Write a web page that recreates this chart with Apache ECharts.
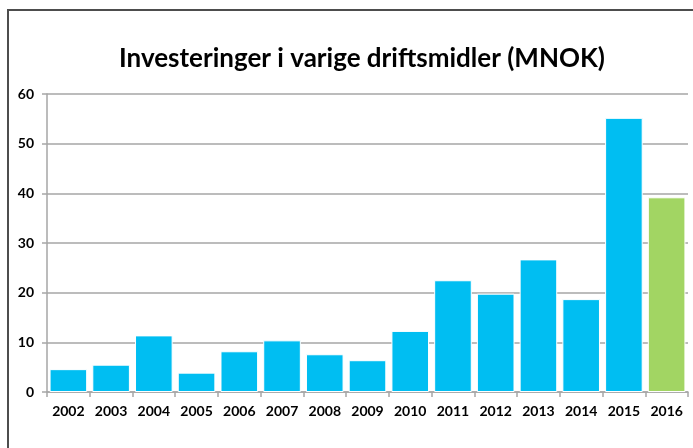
<!DOCTYPE html>
<html>
<head>
<meta charset="utf-8">
<script src="https://cdn.jsdelivr.net/npm/echarts@6/dist/echarts.min.js"></script>
<style>
  html, body { margin: 0; padding: 0; background: #fff; }
  #chart { width: 693px; height: 448px; }
</style>
</head>
<body>
<div id="chart"></div>
<script>
const years = ['2002', '2003', '2004', '2005', '2006', '2007', '2008', '2009', '2010', '2011', '2012', '2013', '2014', '2015', '2016']
const investments = [4.6, 5.5, 11.4, 3.9, 8.2, 10.4, 7.6, 6.4, 12.3, 22.5, 19.8, 26.7, 18.7, 55.2, 39.2]
const yTicks = [0, 10, 20, 30, 40, 50, 60]

const barColor = '#00BEF2'
const lastColor = '#A2D563'
const gridColor = '#A6A6A6'
const font = 'Lato, "Open Sans", sans-serif'

const chart = echarts.init(document.getElementById('chart'))

chart.setOption({
  animation: false,
  backgroundColor: '#fff',
  title: {
    text: 'Investeringer i varige driftsmidler (MNOK)',
    left: 114,
    top: 41,
    textStyle: { fontFamily: font, fontWeight: 'bold', fontSize: 26, color: '#000' },
  },
  graphic: [{
    type: 'rect',
    shape: { x: 8, y: 10, width: 720, height: 480 },
    style: { fill: 'none', stroke: '#4d4d4d', lineWidth: 2 },
    silent: true,
  }],
  grid: { left: 47, right: 5, top: 94, bottom: 56, containLabel: false },
  xAxis: {
    type: 'category',
    data: years,
    axisLine: { lineStyle: { color: gridColor, width: 1.5 } },
    axisTick: { show: true, length: 5, lineStyle: { color: gridColor, width: 1.5 } },
    axisLabel: { color: '#000', fontFamily: font, fontWeight: 'bold', fontSize: 14, margin: 12 },
  },
  yAxis: {
    type: 'value',
    min: yTicks[0],
    max: yTicks[yTicks.length - 1],
    interval: 10,
    axisLine: { show: true, lineStyle: { color: gridColor, width: 1.5 } },
    axisTick: { show: true, length: 5, lineStyle: { color: gridColor, width: 1.5 } },
    axisLabel: { color: '#000', fontFamily: font, fontWeight: 'bold', fontSize: 14, margin: 13 },
    splitLine: { lineStyle: { color: gridColor, width: 1.5 } },
  },
  series: [{
    type: 'bar',
    barCategoryGap: '12%',
    data: investments.map((v, i) => ({
      value: v,
      itemStyle: { color: i === investments.length - 1 ? lastColor : barColor },
    })),
    itemStyle: { borderColor: '#fff', borderWidth: 1 },
  }],
})
</script>
</body>
</html>
